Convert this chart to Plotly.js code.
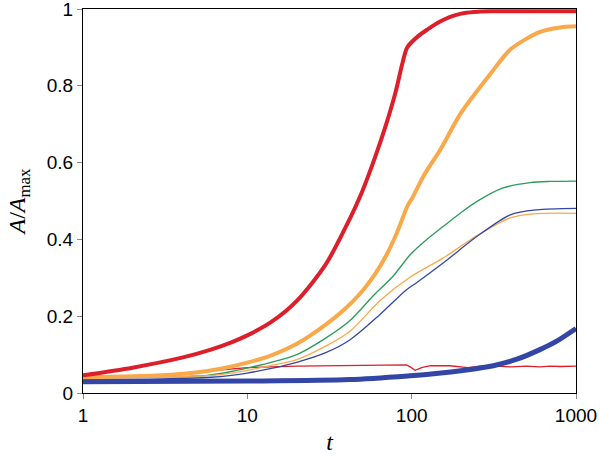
<!DOCTYPE html>
<html>
<head>
<meta charset="utf-8">
<script src="https://cdn.plot.ly/plotly-3.0.1.min.js"></script>
<style>
  html, body { margin: 0; padding: 0; background: #fff; }
  #chart { width: 600px; height: 456px; }
</style>
</head>
<body>
<div id="chart"></div>
<script>
// values (t on a log axis, A/Amax on linear)
var redThickT = [1, 2, 4, 6, 8, 10, 14, 20, 30, 40, 50, 60, 70, 80, 88, 94, 110, 125, 150, 170, 200, 240, 300, 500, 1000];
var redThickY = [0.046, 0.066, 0.092, 0.113, 0.132, 0.15, 0.185, 0.24, 0.335, 0.435, 0.525, 0.615, 0.70, 0.785, 0.86, 0.90, 0.93, 0.947, 0.968, 0.979, 0.988, 0.992, 0.994, 0.994, 0.994];

var orangeThickT = [1, 3, 5, 7, 10, 14, 20, 30, 40, 50, 60, 70, 80, 95, 100, 120, 150, 200, 300, 400, 600, 800, 1000];
var orangeThickY = [0.041, 0.046, 0.054, 0.064, 0.079, 0.098, 0.128, 0.178, 0.222, 0.265, 0.31, 0.358, 0.41, 0.49, 0.505, 0.57, 0.635, 0.73, 0.83, 0.895, 0.94, 0.952, 0.955];

var greenT = [1, 3, 5.7, 8, 10, 14, 20, 29, 42, 58, 77, 98, 120, 156, 200, 250, 360, 526, 700, 1000];
var greenY = [0.041, 0.042, 0.046, 0.056, 0.065, 0.08, 0.10, 0.139, 0.188, 0.252, 0.304, 0.36, 0.395, 0.434, 0.47, 0.499, 0.534, 0.548, 0.551, 0.552];

var orangeThinT = [1, 3, 6, 8, 10, 14, 20, 30, 42, 64, 98, 156, 250, 398, 575, 1000];
var orangeThinY = [0.041, 0.042, 0.046, 0.052, 0.059, 0.072, 0.087, 0.122, 0.16, 0.24, 0.302, 0.352, 0.41, 0.456, 0.467, 0.468];

var blueThinT = [1, 3, 6, 8, 10, 14, 20, 30, 42, 64, 93, 107, 156, 250, 398, 575, 1000];
var blueThinY = [0.036, 0.037, 0.041, 0.046, 0.052, 0.064, 0.08, 0.105, 0.138, 0.204, 0.269, 0.287, 0.339, 0.408, 0.464, 0.477, 0.481];

var redThinT = [1, 3, 6, 10, 20, 40, 60, 93, 98, 105, 115, 130, 170, 200, 220, 260, 300, 400, 500, 600, 700, 800, 1000];
var redThinY = [0.042, 0.047, 0.058, 0.066, 0.07, 0.072, 0.073, 0.073, 0.068, 0.059, 0.066, 0.071, 0.071, 0.067, 0.066, 0.07, 0.071, 0.068, 0.07, 0.068, 0.07, 0.069, 0.07];

var blueThickT = [1, 10, 42, 98, 136, 216, 314, 437, 603, 763, 1000];
var blueThickY = [0.029, 0.031, 0.035, 0.045, 0.05, 0.06, 0.071, 0.088, 0.113, 0.135, 0.168];

var xTicks = [1, 10, 100, 1000];
var xTickText = ['1', '10', '100', '1000'];

var RED = '#dc1f2a', ORANGE = '#faa94a', GREEN = '#2b9b5a', BLUE = '#3446a5';

function line(x, y, color, w, shape) {
  return {x: x, y: y, type: 'scatter', mode: 'lines',
          line: {color: color, width: w, shape: shape || 'spline', smoothing: 0.8},
          hoverinfo: 'x+y'};
}

var data = [
  line(redThinT, redThinY, RED, 1.3, 'linear'),
  line(greenT, greenY, GREEN, 1.3),
  line(orangeThinT, orangeThinY, ORANGE, 1.3),
  line(blueThinT, blueThinY, BLUE, 1.3),
  line(orangeThickT, orangeThickY, ORANGE, 4),
  line(redThickT, redThickY, RED, 4),
  line(blueThickT, blueThickY, BLUE, 5)
];

var layout = {
  width: 600, height: 456,
  margin: {l: 83, r: 24, t: 9, b: 63},
  paper_bgcolor: '#fff', plot_bgcolor: '#fff',
  showlegend: false,
  font: {family: 'Liberation Sans, Arial, sans-serif', size: 19, color: '#000'},
  xaxis: {
    type: 'log', range: [0, 3],
    tickvals: xTicks, ticktext: xTickText,
    ticks: 'outside', ticklen: 5, tickcolor: '#888',
    ticklabeloverflow: 'allow',
    showgrid: false, zeroline: false,
    showline: true, linecolor: '#000', linewidth: 1, mirror: true,
    title: {text: '<i>t</i>', font: {family: 'Liberation Serif, Times New Roman, serif', size: 24}, standoff: 8}
  },
  yaxis: {
    range: [0, 1], dtick: 0.2,
    ticks: 'outside', ticklen: 5, tickcolor: '#888',
    ticklabeloverflow: 'allow',
    showgrid: false, zeroline: false,
    showline: true, linecolor: '#000', linewidth: 1, mirror: true,
    title: {text: '<i>A</i>/<i>A</i><sub>max</sub>', font: {family: 'Liberation Serif, Times New Roman, serif', size: 24}, standoff: 14}
  }
};

Plotly.newPlot('chart', data, layout, {displayModeBar: false, staticPlot: true});
</script>
</body>
</html>
